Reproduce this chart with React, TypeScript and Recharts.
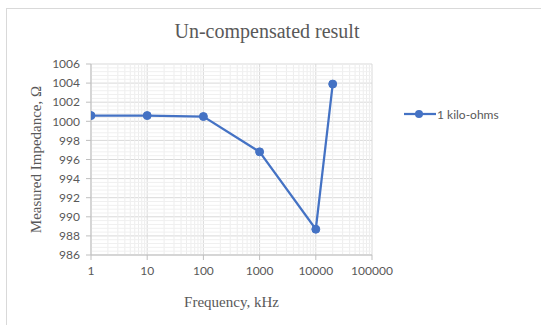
import { LineChart, Line, XAxis, YAxis, CartesianGrid, ReferenceLine } from 'recharts';

const frequencies = [1, 10, 100, 1000, 10000, 20000];
const impedance = [1000.6, 1000.6, 1000.5, 996.8, 988.7, 1003.9];
const xTicks = [1, 10, 100, 1000, 10000, 100000];
const yTicks = [986, 988, 990, 992, 994, 996, 998, 1000, 1002, 1004, 1006];
const seriesName = '1 kilo-ohms';

const data = frequencies.map((f, i) => ({ f, z: impedance[i] }));

// minor grid positions (log decades for x, 0.4 steps for y)
const minorX: number[] = [];
[1, 10, 100, 1000, 10000].forEach((d) => {
  for (let k = 2; k <= 9; k++) minorX.push(d * k);
});
const minorY: number[] = [];
for (let i = 0; i < yTicks.length - 1; i++) {
  for (let k = 1; k <= 4; k++) minorY.push(+(yTicks[i] + k * 0.4).toFixed(1));
}

const BLUE = '#4472C4';
const TEXT = '#595959';

export default function App() {
  return (
    <div style={{ position: 'absolute', left: 0, top: 0, width: 541, height: 325, overflow: 'hidden', background: '#fff' }}>
      <div style={{ position: 'absolute', left: 6, top: 8, width: 560, height: 340, border: '1px solid #d9d9d9' }} />
      <div
        style={{
          position: 'absolute',
          left: 0,
          width: 534,
          top: 20,
          textAlign: 'center',
          fontFamily: '"Liberation Serif", "Times New Roman", serif',
          fontSize: 20,
          color: TEXT,
        }}
      >
        Un-compensated result
      </div>
      <div
        style={{
          position: 'absolute',
          left: 404,
          top: 106,
          display: 'flex',
          alignItems: 'center',
          fontFamily: 'Lato, sans-serif',
          fontSize: 12,
          color: TEXT,
        }}
      >
        <svg width={32} height={16}>
          <line x1={0} y1={8} x2={32} y2={8} stroke={BLUE} strokeWidth={2.25} />
          <circle cx={15} cy={8} r={4} fill={BLUE} />
        </svg>
        <span style={{ marginLeft: 1 }}>{seriesName}</span>
      </div>
      <div style={{ position: 'absolute', left: 0, top: 0 }}>
        <LineChart width={541} height={325} data={data} margin={{ top: 64, right: 169, bottom: 40, left: 31 }}>
          {minorX.map((x) => (
            <ReferenceLine key={'mx' + x} x={x} stroke="#ededed" strokeWidth={1} />
          ))}
          {minorY.map((y) => (
            <ReferenceLine key={'my' + y} y={y} stroke="#f0f0f0" strokeWidth={1} />
          ))}
          <CartesianGrid stroke="#d9d9d9" />
          <XAxis
            dataKey="f"
            type="number"
            scale="log"
            domain={[1, 100000]}
            ticks={xTicks}
            interval={0}
            allowDataOverflow
            height={30}
            stroke="#bfbfbf"
            tickSize={5}
            tickMargin={6}
            tick={{ fill: TEXT, fontSize: 12, fontFamily: 'Lato, sans-serif' }}
            label={{
              content: ({ viewBox }: any) => (
                <text
                  x={viewBox.x + viewBox.width / 2}
                  y={viewBox.y + 52}
                  textAnchor="middle"
                  fill={TEXT}
                  fontSize={15}
                  fontFamily='"Liberation Serif", serif'
                >
                  Frequency, kHz
                </text>
              ),
            }}
          />
          <YAxis
            type="number"
            domain={[986, 1006]}
            ticks={yTicks}
            interval={0}
            width={60}
            stroke="#bfbfbf"
            tickSize={5}
            tickMargin={6}
            tick={{ fill: TEXT, fontSize: 12, fontFamily: 'Lato, sans-serif' }}
            label={{
              content: ({ viewBox }: any) => {
                const cx = viewBox.x + 10;
                const cy = viewBox.y + viewBox.height / 2;
                return (
                  <text
                    x={cx}
                    y={cy}
                    transform={`rotate(-90 ${cx} ${cy})`}
                    textAnchor="middle"
                    fill={TEXT}
                    fontSize={15}
                    fontFamily='"Liberation Serif", serif'
                  >
                    Measured Impedance, Ω
                  </text>
                );
              },
            }}
          />
          <Line
            dataKey="z"
            name={seriesName}
            stroke={BLUE}
            strokeWidth={2.25}
            dot={{ r: 4, fill: BLUE, stroke: BLUE, strokeWidth: 1 }}
            isAnimationActive={false}
          />
        </LineChart>
      </div>
    </div>
  );
}
